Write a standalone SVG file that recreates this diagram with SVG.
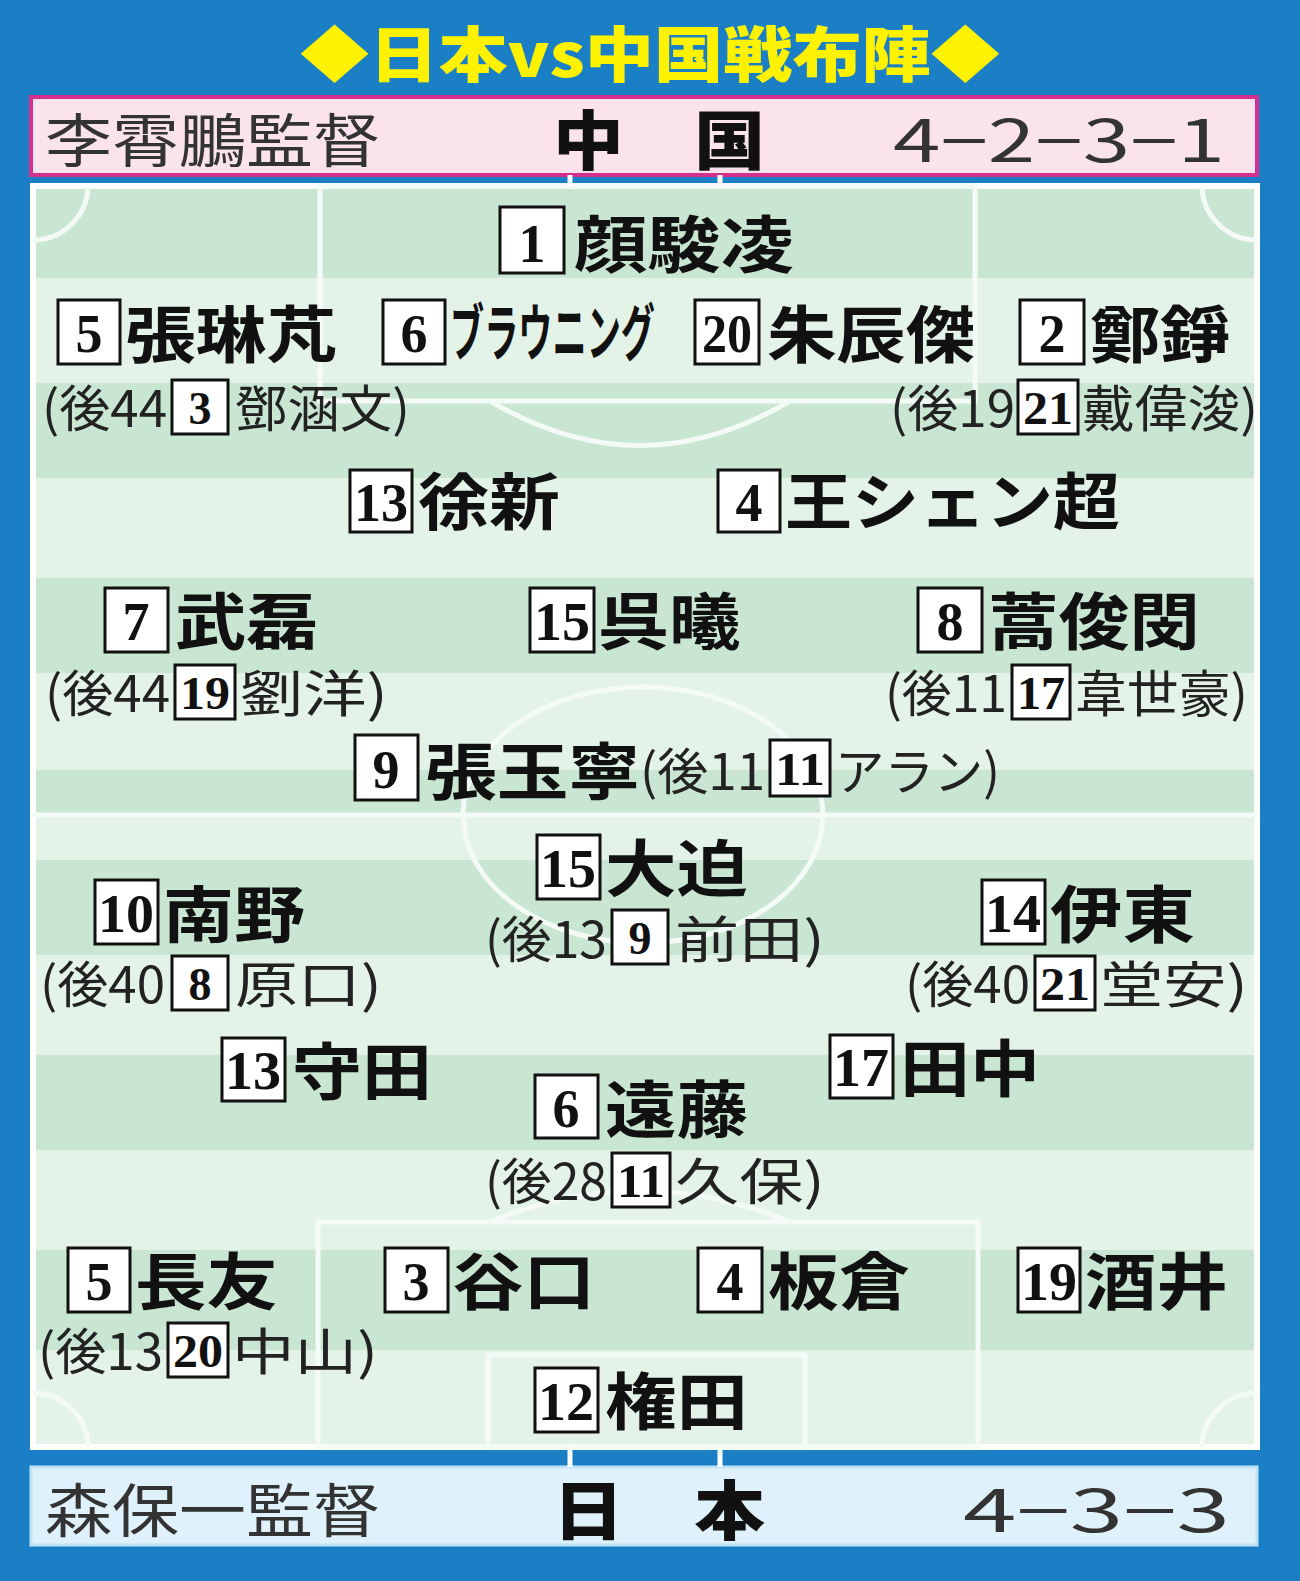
<svg xmlns="http://www.w3.org/2000/svg" width="1300" height="1581" viewBox="0 0 1300 1581">
<style>
.n{font-family:"Noto Sans CJK JP",sans-serif;font-weight:700;font-size:62px;fill:#111}
.s{font-family:"Noto Sans CJK JP",sans-serif;font-weight:400;font-size:50px;fill:#222}
.b{fill:#fff;stroke:#111;stroke-width:3}
.d{font-family:"Liberation Serif",serif;font-weight:700;font-size:54px;fill:#111;text-anchor:middle}
.ds{font-family:"Liberation Serif",serif;font-weight:700;font-size:46px;fill:#111;text-anchor:middle}
.h{font-family:"Noto Sans CJK JP",sans-serif;font-size:58px;fill:#333}
.hb{font-family:"Noto Sans CJK JP",sans-serif;font-weight:900;font-size:64px;fill:#111}
.l{fill:none;stroke:#f4fbf6;stroke-width:5}
</style>
<rect width="1300" height="1581" fill="#1b7fc6"/>
<text x="650" y="77" text-anchor="middle" font-family="Noto Sans CJK JP,sans-serif" font-weight="900" font-size="60" fill="#fff200" textLength="700" lengthAdjust="spacingAndGlyphs">◆日本vs中国戦布陣◆</text>
<rect x="31" y="97" width="1226" height="78" fill="#fbe3ee" stroke="#d6308f" stroke-width="4"/>
<text class="h" x="45" y="162" textLength="335" lengthAdjust="spacingAndGlyphs">李霄鵬監督</text>
<text class="hb" x="553" y="164" textLength="212" lengthAdjust="spacingAndGlyphs">中　国</text>
<text class="h" x="893" y="162" textLength="332" lengthAdjust="spacingAndGlyphs">4−2−3−1</text>
<rect x="31" y="1467" width="1226" height="78" fill="#dff1fb" stroke="#bfe3f5" stroke-width="3"/>
<text class="h" x="45" y="1532" textLength="335" lengthAdjust="spacingAndGlyphs">森保一監督</text>
<text class="hb" x="553" y="1534" textLength="212" lengthAdjust="spacingAndGlyphs">日　本</text>
<text class="h" x="963" y="1532" textLength="267" lengthAdjust="spacingAndGlyphs">4−3−3</text>
<g id="field">
<rect x="30" y="183" width="1230" height="1267" fill="#e4f3e8"/>
<g fill="#c8e6d1">
<rect x="30" y="183" width="1230" height="95"/><rect x="30" y="383" width="1230" height="95"/><rect x="30" y="578" width="1230" height="95"/><rect x="30" y="770" width="1230" height="45"/><rect x="30" y="860" width="1230" height="95"/><rect x="30" y="1055" width="1230" height="95"/><rect x="30" y="1250" width="1230" height="100"/>
</g>
<rect x="33" y="186" width="1224" height="1261" fill="none" stroke="#fff" stroke-width="6"/>
<line class="l" x1="33" y1="815" x2="1257" y2="815"/>
<ellipse class="l" cx="643" cy="815" rx="180" ry="128"/>
<rect class="l" x="320" y="186" width="655" height="215"/>
<path class="l" d="M490 401 Q640 490 790 401"/>
<rect class="l" x="318" y="1222" width="660" height="225"/>
<path class="l" d="M490 1222 Q640 1160 790 1222"/>
<rect class="l" x="488" y="1355" width="317" height="92"/>
<path class="l" d="M33 240 A55 55 0 0 0 88 186 M1257 240 A55 55 0 0 1 1202 186 M33 1393 A55 55 0 0 1 88 1447 M1257 1393 A55 55 0 0 0 1202 1447"/>
<path stroke="#fff" stroke-width="5" d="M570 175V186M720 175V186M570 1447V1467M720 1447V1467"/>
</g>
<g id="china">
<g id="p1"><rect class="b" x="500" y="207" width="64" height="66"/><text class="d" x="532" y="262">1</text><text class="n" x="574" y="268" textLength="220" lengthAdjust="spacingAndGlyphs">顔駿凌</text></g>
<g id="p5c"><rect class="b" x="58" y="300" width="62" height="64"/><text class="d" x="89" y="352">5</text><text class="n" x="125" y="358" textLength="212" lengthAdjust="spacingAndGlyphs">張琳芃</text></g>
<g id="p6c"><rect class="b" x="383" y="300" width="62" height="64"/><text class="d" x="414" y="352">6</text><text class="n" x="450" y="356" textLength="205" lengthAdjust="spacingAndGlyphs">ブラウニング</text></g>
<g id="p20c"><rect class="b" x="695" y="300" width="64" height="64"/><text class="d" x="727" y="352" textLength="50" lengthAdjust="spacingAndGlyphs">20</text><text class="n" x="767" y="358" textLength="208" lengthAdjust="spacingAndGlyphs">朱辰傑</text></g>
<g id="p2c"><rect class="b" x="1020" y="300" width="64" height="64"/><text class="d" x="1052" y="352">2</text><text class="n" x="1090" y="358" textLength="140" lengthAdjust="spacingAndGlyphs">鄭錚</text></g>
<g id="s3c"><text class="s" x="42" y="427" textLength="125" lengthAdjust="spacingAndGlyphs">(後44</text><rect class="b" x="172" y="380" width="56" height="54"/><text class="ds" x="200" y="424">3</text><text class="s" x="235" y="427" textLength="175" lengthAdjust="spacingAndGlyphs">鄧涵文)</text></g>
<g id="s21c"><text class="s" x="890" y="427" textLength="125" lengthAdjust="spacingAndGlyphs">(後19</text><rect class="b" x="1018" y="380" width="60" height="54"/><text class="ds" x="1048" y="424" textLength="50" lengthAdjust="spacingAndGlyphs">21</text><text class="s" x="1082" y="427" textLength="176" lengthAdjust="spacingAndGlyphs">戴偉浚)</text></g>
<g id="p13c"><rect class="b" x="350" y="470" width="62" height="62"/><text class="d" x="381" y="521" textLength="54" lengthAdjust="spacingAndGlyphs">13</text><text class="n" x="418" y="525" textLength="142" lengthAdjust="spacingAndGlyphs">徐新</text></g>
<g id="p4c"><rect class="b" x="718" y="470" width="62" height="62"/><text class="d" x="749" y="521">4</text><text class="n" x="785" y="525" textLength="335" lengthAdjust="spacingAndGlyphs">王シェン超</text></g>
<g id="p7c"><rect class="b" x="105" y="588" width="63" height="64"/><text class="d" x="136" y="640">7</text><text class="n" x="175" y="645" textLength="143" lengthAdjust="spacingAndGlyphs">武磊</text></g>
<g id="p15c"><rect class="b" x="530" y="588" width="64" height="64"/><text class="d" x="562" y="640" textLength="56" lengthAdjust="spacingAndGlyphs">15</text><text class="n" x="598" y="645" textLength="142" lengthAdjust="spacingAndGlyphs">呉曦</text></g>
<g id="p8c"><rect class="b" x="918" y="588" width="64" height="64"/><text class="d" x="950" y="640">8</text><text class="n" x="988" y="645" textLength="212" lengthAdjust="spacingAndGlyphs">蒿俊閔</text></g>
<g id="s19c"><text class="s" x="45" y="712" textLength="125" lengthAdjust="spacingAndGlyphs">(後44</text><rect class="b" x="175" y="665" width="60" height="54"/><text class="ds" x="205" y="709" textLength="50" lengthAdjust="spacingAndGlyphs">19</text><text class="s" x="240" y="712" textLength="148" lengthAdjust="spacingAndGlyphs">劉洋)</text></g>
<g id="s17c"><text class="s" x="885" y="712" textLength="122" lengthAdjust="spacingAndGlyphs">(後11</text><rect class="b" x="1012" y="665" width="58" height="54"/><text class="ds" x="1041" y="709" textLength="48" lengthAdjust="spacingAndGlyphs">17</text><text class="s" x="1075" y="712" textLength="173" lengthAdjust="spacingAndGlyphs">韋世豪)</text></g>
<g id="p9c"><rect class="b" x="355" y="735" width="63" height="65"/><text class="d" x="386" y="788">9</text><text class="n" x="425" y="795" textLength="215" lengthAdjust="spacingAndGlyphs">張玉寧</text><text class="s" x="640" y="790" textLength="125" lengthAdjust="spacingAndGlyphs">(後11</text><rect class="b" x="770" y="740" width="60" height="56"/><text class="ds" x="800" y="785" textLength="50" lengthAdjust="spacingAndGlyphs">11</text><text class="s" x="835" y="790" textLength="165" lengthAdjust="spacingAndGlyphs">アラン)</text></g>
</g>
<g id="japan">
<g id="p15j"><rect class="b" x="537" y="835" width="63" height="64"/><text class="d" x="568" y="887" textLength="56" lengthAdjust="spacingAndGlyphs">15</text><text class="n" x="605" y="892" textLength="143" lengthAdjust="spacingAndGlyphs">大迫</text></g>
<g id="s9j"><text class="s" x="485" y="958" textLength="122" lengthAdjust="spacingAndGlyphs">(後13</text><rect class="b" x="612" y="910" width="56" height="54"/><text class="ds" x="640" y="954">9</text><text class="s" x="675" y="958" textLength="150" lengthAdjust="spacingAndGlyphs">前田)</text></g>
<g id="p10j"><rect class="b" x="95" y="880" width="63" height="64"/><text class="d" x="126" y="932" textLength="56" lengthAdjust="spacingAndGlyphs">10</text><text class="n" x="163" y="938" textLength="142" lengthAdjust="spacingAndGlyphs">南野</text></g>
<g id="p14j"><rect class="b" x="982" y="880" width="63" height="64"/><text class="d" x="1013" y="932" textLength="56" lengthAdjust="spacingAndGlyphs">14</text><text class="n" x="1050" y="938" textLength="145" lengthAdjust="spacingAndGlyphs">伊東</text></g>
<g id="s8j"><text class="s" x="40" y="1003" textLength="125" lengthAdjust="spacingAndGlyphs">(後40</text><rect class="b" x="172" y="956" width="56" height="54"/><text class="ds" x="200" y="1000">8</text><text class="s" x="235" y="1003" textLength="147" lengthAdjust="spacingAndGlyphs">原口)</text></g>
<g id="s21j"><text class="s" x="905" y="1003" textLength="125" lengthAdjust="spacingAndGlyphs">(後40</text><rect class="b" x="1035" y="956" width="60" height="54"/><text class="ds" x="1065" y="1000" textLength="50" lengthAdjust="spacingAndGlyphs">21</text><text class="s" x="1100" y="1003" textLength="148" lengthAdjust="spacingAndGlyphs">堂安)</text></g>
<g id="p13j"><rect class="b" x="222" y="1038" width="63" height="63"/><text class="d" x="253" y="1089" textLength="56" lengthAdjust="spacingAndGlyphs">13</text><text class="n" x="292" y="1095" textLength="140" lengthAdjust="spacingAndGlyphs">守田</text></g>
<g id="p17j"><rect class="b" x="830" y="1035" width="63" height="63"/><text class="d" x="861" y="1086" textLength="56" lengthAdjust="spacingAndGlyphs">17</text><text class="n" x="900" y="1092" textLength="140" lengthAdjust="spacingAndGlyphs">田中</text></g>
<g id="p6j"><rect class="b" x="535" y="1075" width="63" height="63"/><text class="d" x="566" y="1127">6</text><text class="n" x="605" y="1133" textLength="143" lengthAdjust="spacingAndGlyphs">遠藤</text></g>
<g id="s11j"><text class="s" x="485" y="1200" textLength="122" lengthAdjust="spacingAndGlyphs">(後28</text><rect class="b" x="612" y="1153" width="58" height="54"/><text class="ds" x="641" y="1197" textLength="48" lengthAdjust="spacingAndGlyphs">11</text><text class="s" x="675" y="1200" textLength="150" lengthAdjust="spacingAndGlyphs">久保)</text></g>
<g id="p5j"><rect class="b" x="68" y="1248" width="62" height="64"/><text class="d" x="99" y="1300">5</text><text class="n" x="135" y="1305" textLength="143" lengthAdjust="spacingAndGlyphs">長友</text></g>
<g id="p3j"><rect class="b" x="385" y="1248" width="63" height="64"/><text class="d" x="416" y="1300">3</text><text class="n" x="452" y="1305" textLength="143" lengthAdjust="spacingAndGlyphs">谷口</text></g>
<g id="p4j"><rect class="b" x="698" y="1248" width="64" height="64"/><text class="d" x="730" y="1300">4</text><text class="n" x="768" y="1305" textLength="142" lengthAdjust="spacingAndGlyphs">板倉</text></g>
<g id="p19j"><rect class="b" x="1018" y="1248" width="62" height="64"/><text class="d" x="1049" y="1300" textLength="56" lengthAdjust="spacingAndGlyphs">19</text><text class="n" x="1085" y="1305" textLength="143" lengthAdjust="spacingAndGlyphs">酒井</text></g>
<g id="s20j"><text class="s" x="38" y="1370" textLength="125" lengthAdjust="spacingAndGlyphs">(後13</text><rect class="b" x="168" y="1323" width="60" height="54"/><text class="ds" x="198" y="1367" textLength="50" lengthAdjust="spacingAndGlyphs">20</text><text class="s" x="232" y="1370" textLength="146" lengthAdjust="spacingAndGlyphs">中山)</text></g>
<g id="p12j"><rect class="b" x="535" y="1368" width="63" height="64"/><text class="d" x="566" y="1420" textLength="56" lengthAdjust="spacingAndGlyphs">12</text><text class="n" x="605" y="1425" textLength="143" lengthAdjust="spacingAndGlyphs">権田</text></g>
</g>
</svg>
